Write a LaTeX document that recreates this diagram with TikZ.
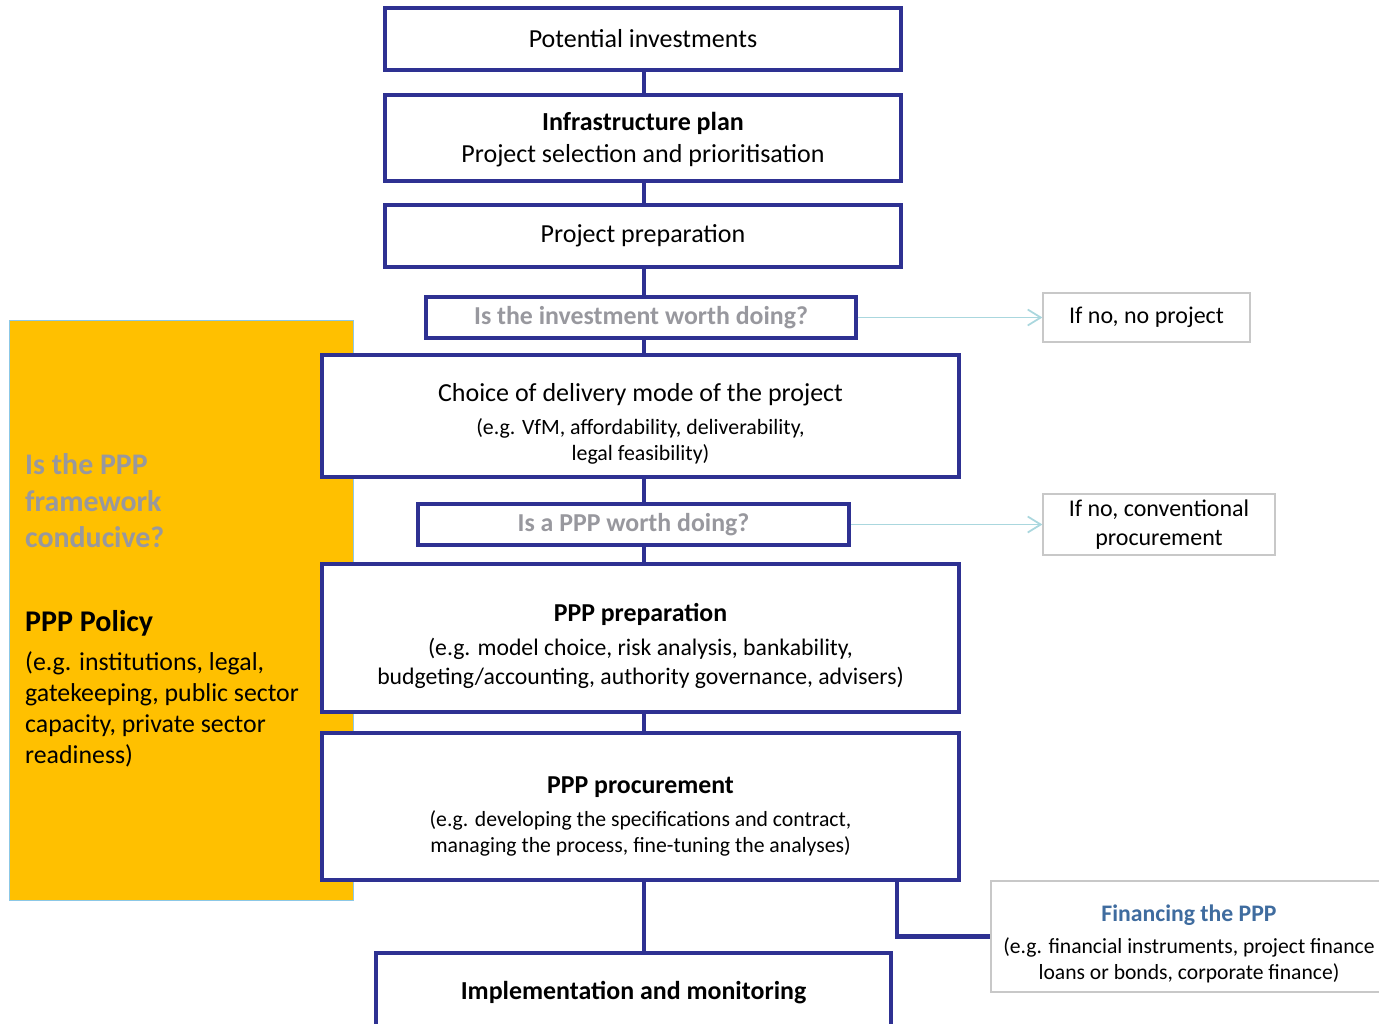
\documentclass[tikz,border=0pt]{standalone}
\usepackage{fontspec}
\setmainfont{Carlito}
\usetikzlibrary{arrows.meta, positioning}
\definecolor{navy}{RGB}{46,49,146}
\definecolor{policyyellow}{RGB}{255,192,0}
\definecolor{edgeblue}{RGB}{140,200,230}
\definecolor{askgray}{RGB}{152,152,158}
\definecolor{notegray}{RGB}{200,200,200}
\definecolor{nocyan}{RGB}{170,215,222}
\definecolor{finblue}{RGB}{63,108,159}
\newcommand{\unitpx}{0.02cm}
\newcommand{\fs}[2]{\fontsize{#1}{#2}\selectfont}

\begin{document}
\begin{tikzpicture}[x=\unitpx, y=-\unitpx,
    stagebox/.style={draw=navy, line width=2.3pt, fill=white, rectangle, align=center, inner sep=0pt, font=\fs{14.8}{18.2}},
    stagetext/.style={align=center, inner sep=0pt},
    askbox/.style={stagebox, line width=2pt, text=askgray, font=\fs{14.7}{17}\bfseries},
    notebox/.style={draw=notegray, line width=0.7pt, fill=white, rectangle, align=center, inner sep=0pt, font=\fs{13.65}{16.5}},
    link/.style={draw=navy, line width=2.3pt},
    noarrow/.style={draw=nocyan, line width=1pt, -{Straight Barb[length=2.6mm,width=3.2mm]}}]
    \clip (0,0) rectangle (1379,1024);

    % Policy panel
    \node (policy) [fill=policyyellow, draw=edgeblue, line width=0.5pt, rectangle, inner sep=0pt,
        minimum width=344*\unitpx, minimum height=580*\unitpx] at (181,610) {};
    \node (conducive) [anchor=west, align=left, text=askgray, font=\fs{17}{20.8}\bfseries] at (19,501)
        {Is the PPP\\framework\\conducive?};
    \node (policy title) [anchor=west, font=\fs{17.1}{20}\bfseries] at (19,623) {PPP Policy};
    \node (policy text) [anchor=west, align=left, font=\fs{14.7}{17.6}] at (19,709.5)
        {(e.g. institutions, legal,\\gatekeeping, public sector\\capacity, private sector\\readiness)};

    % Nodes
    \node (potential) [stagebox, minimum width=516*\unitpx, minimum height=62*\unitpx] at (643,39) {Potential investments};
    \node (infra) [stagebox, minimum width=516*\unitpx, minimum height=86*\unitpx] at (643,138) {};
    \node (infra text) [stagetext, font=\fs{14.8}{18.2}] at ([yshift=-2*\unitpx]infra.center)
        {\textbf{Infrastructure plan}\\Project selection and prioritisation};
    \node (preparation) [stagebox, minimum width=516*\unitpx, minimum height=62*\unitpx] at (643,236) {Project preparation};
    \node (worth) [askbox, minimum width=430*\unitpx, minimum height=41*\unitpx] at (641,317.5) {Is the investment worth doing?};
    \node (delivery) [stagebox, minimum width=637*\unitpx, minimum height=122*\unitpx] at (640.5,416) {};
    \node (delivery text) [stagetext, font=\fs{12.45}{14.8}] at ([yshift=-8*\unitpx]delivery.center)
        {{\fs{14.8}{17}Choice of delivery mode of the project}\\[4pt](e.g. VfM, affordability, deliverability,\\legal feasibility)};
    \node (pppworth) [askbox, minimum width=431*\unitpx, minimum height=41*\unitpx] at (633.5,524.5) {Is a PPP worth doing?};
    \node (pppprep) [stagebox, minimum width=637*\unitpx, minimum height=148*\unitpx] at (640.5,638) {};
    \node (pppprep text) [stagetext, font=\fs{13.5}{16.5}] at ([yshift=-8*\unitpx]pppprep.center)
        {{\fs{14.7}{17}\bfseries PPP preparation}\\[2.9pt](e.g. model choice, risk analysis, bankability,\\budgeting/accounting, authority governance, advisers)};
    \node (pppproc) [stagebox, minimum width=637*\unitpx, minimum height=147*\unitpx] at (640.5,806.5) {};
    \node (pppproc text) [stagetext, font=\fs{12.35}{14.8}] at ([yshift=-10*\unitpx]pppproc.center)
        {{\fs{14.7}{17}\bfseries PPP procurement}\\[4pt](e.g. developing the specifications and contract,\\managing the process, fine-tuning the analyses)};
    \node (implement) [stagebox, minimum width=515*\unitpx, minimum height=80*\unitpx] at (633.5,993)
        {\fs{14.75}{17}\bfseries Implementation and monitoring};
    \node (noproject) [notebox, minimum width=207*\unitpx, minimum height=49*\unitpx] at (1146.5,317.5) {If no, no project};
    \node (conventional) [notebox, minimum width=232*\unitpx, minimum height=61*\unitpx] at (1159,524.5)
        {If no, conventional\\procurement};
    \node (financing) [notebox, minimum width=396*\unitpx, minimum height=111*\unitpx] at (1189,936.5) {};
    \node (financing text) [stagetext, font=\fs{12.3}{14.8}] at ([yshift=-7*\unitpx]financing.center)
        {{\fs{13.5}{16}\bfseries\color{finblue}Financing the PPP}\\[3.4pt](e.g. financial instruments, project finance\\loans or bonds, corporate finance)};
    \coordinate (spine) at (644,0);
    \coordinate (fintap) at (897,880);

    % Connections
    \draw[link] (potential.south -| spine) -- (infra.north -| spine);
    \draw[link] (infra.south -| spine) -- (preparation.north -| spine);
    \draw[link] (preparation.south -| spine) -- (worth.north -| spine);
    \draw[link] (worth.south -| spine) -- (delivery.north -| spine);
    \draw[link] (delivery.south -| spine) -- (pppworth.north -| spine);
    \draw[link] (pppworth.south -| spine) -- (pppprep.north -| spine);
    \draw[link] (pppprep.south -| spine) -- (pppproc.north -| spine);
    \draw[link] (pppproc.south -| spine) -- (implement.north -| spine);
    \draw[link] (fintap) |- (financing.west);
    \draw[noarrow] (worth) -- (noproject);
    \draw[noarrow] (pppworth) -- (conventional);
\end{tikzpicture}
\end{document}
